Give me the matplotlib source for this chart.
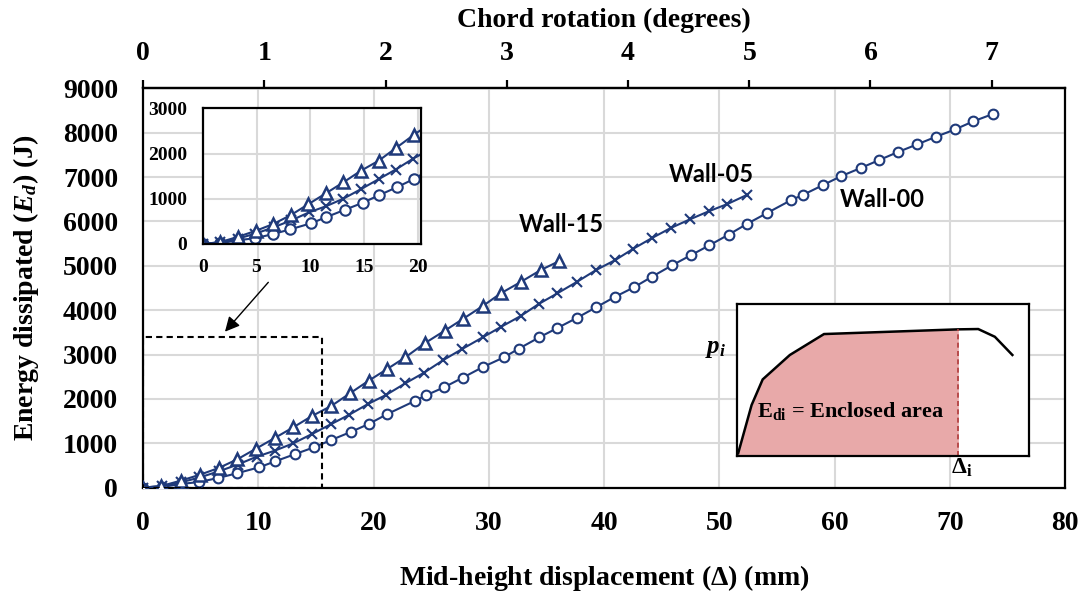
import matplotlib
matplotlib.use("Agg")
import matplotlib.pyplot as plt
from matplotlib.patches import Rectangle

plt.rcParams['font.family'] = ['Liberation Serif', 'DejaVu Serif']
plt.rcParams['font.weight'] = 'bold'
plt.rcParams['mathtext.fontset'] = 'custom'
plt.rcParams['mathtext.rm'] = 'Liberation Serif:bold'
plt.rcParams['mathtext.it'] = 'Liberation Serif:bold:italic'
plt.rcParams['mathtext.bf'] = 'Liberation Serif:bold'

# ---------------- data ----------------
wall00_x = [0, 1.65, 3.27, 4.88, 6.51, 8.13, 10.09, 11.48, 13.22, 14.84, 16.33, 18.02,
            19.58, 21.20, 23.63, 24.56, 26.12, 27.74, 29.50, 31.32, 32.60, 34.39, 35.95,
            37.63, 39.31, 40.98, 42.60, 44.16, 45.90, 47.52, 49.14, 50.80, 52.43, 54.10,
            56.25, 57.29, 58.96, 60.54, 62.27, 63.89, 65.51, 67.18, 68.81, 70.48, 72.04, 73.73]
wall00_y = [0, 15, 83, 128, 218, 324, 460, 595, 759, 910, 1075, 1255,
            1435, 1660, 1960, 2082, 2262, 2479, 2720, 2938, 3132, 3389, 3598,
            3824, 4065, 4304, 4516, 4754, 5011, 5237, 5462, 5701, 5949, 6183,
            6483, 6602, 6814, 7017, 7204, 7385, 7565, 7738, 7909, 8076, 8256, 8420]

wall05_x = [0, 1.65, 3.3, 4.9, 6.6, 8.2, 9.87, 11.43, 13.04, 14.66, 16.34, 17.90, 19.52,
            21.08, 22.76, 24.38, 26.06, 27.65, 29.48, 31.09, 32.77, 34.33, 35.95, 37.63,
            39.31, 40.98, 42.54, 44.16, 45.79, 47.46, 49.08, 50.70, 52.38]
wall05_y = [0, 40, 120, 230, 370, 520, 699, 834, 1000, 1209, 1435, 1645, 1886,
            2089, 2352, 2591, 2877, 3119, 3389, 3628, 3869, 4139, 4380, 4635,
            4905, 5131, 5385, 5626, 5852, 6048, 6228, 6392, 6595]

wall15_x = [0, 1.59, 3.27, 4.95, 6.57, 8.19, 9.80, 11.43, 13.04, 14.66, 16.33, 17.96,
            19.58, 21.15, 22.76, 24.44, 26.18, 27.79, 29.48, 31.04, 32.77, 34.51, 36.07]
wall15_y = [0, 38, 158, 293, 444, 640, 879, 1120, 1361, 1616, 1841, 2127,
            2411, 2668, 2938, 3254, 3538, 3808, 4094, 4380, 4635, 4905, 5101]

series_names = ['Wall-00', 'Wall-05', 'Wall-15']
x_ticks = [0, 10, 20, 30, 40, 50, 60, 70, 80]
y_ticks = [0, 1000, 2000, 3000, 4000, 5000, 6000, 7000, 8000, 9000]
rot_ticks = [0, 1, 2, 3, 4, 5, 6, 7]
mm_per_degree = 10.52
inset_x_ticks = [0, 5, 10, 15, 20]
inset_y_ticks = [0, 1000, 2000, 3000]

# schematic (inset illustration) shape, in axes fractions
schem_x = [0.003, 0.049, 0.087, 0.180, 0.297, 0.757, 0.825, 0.882, 0.942]
schem_y = [0.016, 0.334, 0.503, 0.664, 0.802, 0.833, 0.835, 0.784, 0.664]

# ---------------- style ----------------
navy = '#1f3a7a'
grid_c = '#d9d9d9'

fig = plt.figure(figsize=(10.86, 6.02), dpi=100)
ax = fig.add_axes([0.1317, 0.1899, 0.8490, 0.6634])

def draw_series(a, ms_c, ms_x, ms_t):
    a.plot(wall00_x, wall00_y, color=navy, lw=1.5, marker='o', ms=ms_c,
           mfc='white', mec=navy, mew=1.5, zorder=3)
    a.plot(wall05_x, wall05_y, color=navy, lw=1.5, marker='x', ms=ms_x,
           mec=navy, mew=1.5, zorder=3)
    a.plot(wall15_x, wall15_y, color=navy, lw=1.5, marker='^', ms=ms_t,
           mfc='white', mec=navy, mew=1.8, zorder=3)

draw_series(ax, 7, 7, 8)
ax.set_xlim(0, 80)
ax.set_ylim(0, 9000)
ax.set_xticks(x_ticks)
ax.set_yticks(y_ticks)
ax.grid(True, color=grid_c, lw=1.5, zorder=0)
ax.set_axisbelow(True)
ax.tick_params(axis='both', length=0, labelsize=20)
ax.tick_params(axis='x', pad=17)
ax.tick_params(axis='y', pad=18)
for s in ax.spines.values():
    s.set_linewidth(1.6)
ax.set_xlabel(r'Mid-height displacement ($\mathit{Δ}$) (mm)', fontsize=20,
              fontweight='bold', labelpad=19)
ax.set_ylabel(r'Energy dissipated ($\mathit{E_d}$) (J)', fontsize=20,
              fontweight='bold', labelpad=16)

top = ax.secondary_xaxis('top', functions=(lambda x: x / mm_per_degree,
                                            lambda d: d * mm_per_degree))
top.set_xticks(rot_ticks)
top.tick_params(axis='x', direction='out', length=6, width=1.6, labelsize=20, pad=10)
top.spines['top'].set_linewidth(1.6)
top.set_xlabel('Chord rotation (degrees)', fontsize=20, fontweight='bold', labelpad=10)

# series labels
ax.text(36.33, 5942, 'Wall-15', family='Lato', fontweight='bold', fontsize=17,
        ha='center', va='center')
ax.text(49.27, 7057, 'Wall-05', family='Lato', fontweight='bold', fontsize=17,
        ha='center', va='center')
ax.text(64.13, 6505, 'Wall-00', family='Lato', fontweight='bold', fontsize=17,
        ha='center', va='center')

# dashed zoom region & arrow
ax.add_patch(Rectangle((0, 0), 15.53, 3396, fill=False, ls=(0, (3, 2)), lw=1.5,
                       ec='black', zorder=4))
ax.annotate('', xy=(7.11, 3515), xytext=(10.87, 4628),
            arrowprops=dict(arrowstyle='-|>', color='black', lw=1.0,
                            mutation_scale=22, shrinkA=0, shrinkB=0,
                            facecolor='black', edgecolor='#333333'))

# zoom inset
ins = fig.add_axes([0.1866, 0.5947, 0.2007, 0.2254])
ins.set_facecolor('white')
draw_series(ins, 7.5, 7.5, 8.5)
ins.set_xlim(0, 20.22)
ins.set_ylim(0, 3000)
ins.set_xticks(inset_x_ticks)
ins.set_yticks(inset_y_ticks)
ins.grid(True, color=grid_c, lw=1.5, zorder=0)
ins.set_axisbelow(True)
ins.tick_params(axis='both', length=0, labelsize=14, pad=11)
for s in ins.spines.values():
    s.set_linewidth(1.6)
    s.set_zorder(5)

# schematic inset
sch = fig.add_axes([0.6789, 0.2430, 0.2689, 0.2520])
sch.set_xlim(0, 1)
sch.set_ylim(0, 1)
sch.set_xticks([])
sch.set_yticks([])
for s in sch.spines.values():
    s.set_linewidth(1.6)
fx = schem_x[:6]
fy = schem_y[:6]
sch.fill_between([0] + fx, [0] + fy, 0, color='#e8a9a9', lw=0)
sch.plot(schem_x, schem_y, color='black', lw=1.8, solid_joinstyle='miter')
sch.plot([schem_x[5], schem_x[5]], [0, schem_y[5]], color='#b03a3a', lw=1.2,
         ls=(0, (3, 2)))
sch.text(0.387, 0.295, r'$\mathbf{E_{di}}$ = Enclosed area', fontsize=16,
         fontweight='bold', ha='center', va='center')
fig.text(716 / 1086, 1 - 348 / 602, r'$p_i$', fontsize=18, ha='center', va='center')
fig.text(962 / 1086, 1 - 468 / 602, r'$\mathbf{Δ_i}$', fontsize=17,
         ha='center', va='center')

fig.savefig('out.png', dpi=100)
